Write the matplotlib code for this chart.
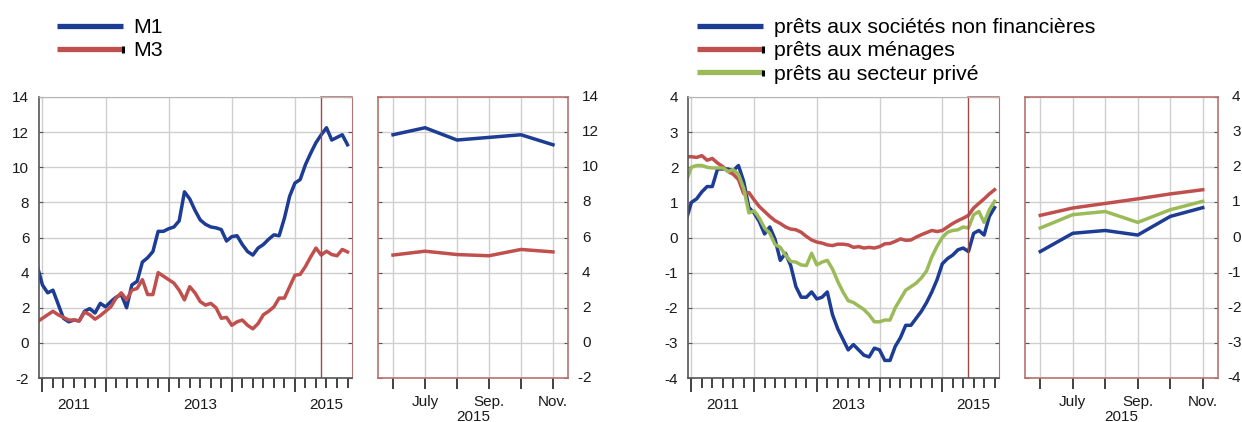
import numpy as np
import matplotlib
matplotlib.use("Agg")
import matplotlib.pyplot as plt
import matplotlib.transforms as mtransforms
from matplotlib.lines import Line2D
from matplotlib.legend_handler import HandlerLine2D

plt.rcParams['font.family'] = ['Liberation Sans', 'DejaVu Sans']
plt.rcParams['axes.unicode_minus'] = False

# monthly data, Dec 2010 .. Nov 2015 (month index: Jan 2011 = 0)
months = np.arange(-1, 59)

m1 = [4.4,
      3.3, 2.85, 3.0, 2.2, 1.4, 1.2, 1.3, 1.25, 1.8, 1.95, 1.7, 2.25,
      2.05, 2.35, 2.6, 2.75, 2.0, 3.3, 3.5, 4.6, 4.85, 5.2, 6.35, 6.35,
      6.5, 6.6, 6.95, 8.6, 8.2, 7.55, 7.0, 6.75, 6.6, 6.55, 6.45, 5.8,
      6.05, 6.1, 5.6, 5.2, 5.0, 5.4, 5.6, 5.9, 6.15, 6.1, 7.1, 8.35,
      9.1, 9.3, 10.15, 10.8, 11.4, 11.85, 12.25, 11.55, 11.7, 11.85, 11.28]

m3 = [1.2,
      1.4, 1.6, 1.8, 1.6, 1.45, 1.3, 1.3, 1.25, 1.75, 1.6, 1.35, 1.55,
      1.8, 2.05, 2.55, 2.85, 2.45, 3.0, 3.1, 3.6, 2.75, 2.75, 4.0, 3.8,
      3.6, 3.4, 3.0, 2.45, 3.2, 2.85, 2.35, 2.15, 2.25, 2.0, 1.4, 1.45,
      1.0, 1.2, 1.3, 1.0, 0.8, 1.1, 1.6, 1.8, 2.05, 2.55, 2.55, 3.2,
      3.85, 3.9, 4.35, 4.9, 5.4, 5.0, 5.22, 5.03, 4.96, 5.32, 5.18]

nfc = [0.5,
       1.0, 1.1, 1.3, 1.45, 1.45, 1.95, 1.95, 1.95, 1.9, 2.05, 1.6, 0.85,
       0.7, 0.45, 0.1, 0.3, -0.05, -0.65, -0.45, -0.8, -1.4, -1.7, -1.7, -1.55,
       -1.75, -1.7, -1.55, -2.2, -2.6, -2.9, -3.2, -3.05, -3.2, -3.35, -3.4, -3.15,
       -3.2, -3.5, -3.5, -3.1, -2.85, -2.5, -2.5, -2.3, -2.1, -1.85, -1.55, -1.2,
       -0.75, -0.6, -0.5, -0.35, -0.3, -0.4, 0.12, 0.2, 0.07, 0.6, 0.85]

households = [2.3,
              2.3, 2.28, 2.33, 2.2, 2.25, 2.12, 2.02, 1.88, 1.8, 1.65, 1.25, 1.28,
              1.07, 0.88, 0.74, 0.6, 0.48, 0.4, 0.3, 0.24, 0.22, 0.15, 0.03, -0.07,
              -0.13, -0.16, -0.21, -0.23, -0.19, -0.19, -0.21, -0.28, -0.26, -0.3, -0.28, -0.3,
              -0.26, -0.18, -0.17, -0.11, -0.04, -0.08, -0.07, 0.01, 0.08, 0.14, 0.2, 0.17,
              0.2, 0.3, 0.4, 0.48, 0.55, 0.63, 0.84, 0.97, 1.1, 1.24, 1.36]

private = [1.6,
           2.0, 2.05, 2.05, 2.0, 1.98, 1.98, 1.98, 1.88, 1.93, 1.8, 1.4, 0.7,
           0.76, 0.55, 0.27, 0.12, -0.2, -0.28, -0.5, -0.68, -0.7, -0.78, -0.8, -0.45,
           -0.78, -0.7, -0.65, -0.9, -1.25, -1.55, -1.8, -1.85, -1.95, -2.05, -2.2, -2.4,
           -2.4, -2.35, -2.35, -2.0, -1.75, -1.5, -1.4, -1.3, -1.15, -0.95, -0.55, -0.25,
           0.0, 0.15, 0.2, 0.22, 0.3, 0.27, 0.65, 0.74, 0.43, 0.79, 1.03]

year_starts = [0, 12, 24, 36, 48]
year_labels = {6: "2011", 30: "2013", 54: "2015"}
zoom_start = 53  # June 2015
zoom_labels = ["", "July", "", "Sep.", "", "Nov."]

left_series = [("M1", m1), ("M3", m3)]
right_series = [("prêts aux sociétés non financières", nfc),
                ("prêts aux ménages", households),
                ("prêts au secteur privé", private)]

BLUE = "#1d3c94"
RED = "#c0504d"
GREEN = "#9bbb59"
FRAME_RED = "#b87272"
GRID = "#cfcfcf"
DARK = "#1a1a1a"
colors = [BLUE, RED, GREEN]

W, H = 1242, 422
fig = plt.figure(figsize=(W / 100, H / 100), dpi=100)


def px_axes(x0, x1, y0, y1):
    return fig.add_axes([x0 / W, 1 - y1 / H, (x1 - x0) / W, (y1 - y0) / H])


def style_main(ax, series, ylim, yticks):
    for (lab, vals), c in zip(series, colors):
        ax.plot(months, vals, color=c, lw=2.5, solid_joinstyle='round')
    ax.set_xlim(-0.65, 58.85)
    ax.set_ylim(*ylim)
    ax.set_yticks(yticks)
    ax.set_yticklabels([str(v) for v in yticks], fontsize=11, color=DARK)
    ax.set_xticks(year_starts)
    ax.set_xticks(np.arange(0, 59, 2), minor=True)
    ax.set_xticklabels([])
    ax.grid(True, which='major', color=GRID, lw=1)
    ax.set_axisbelow(True)
    ax.tick_params(axis='x', which='major', direction='out', length=10, width=1.3, color='#333333')
    ax.tick_params(axis='x', which='minor', direction='out', length=7, width=1.3, color='#333333')
    ax.tick_params(axis='y', direction='in', length=3, left=True, right=True, color='#555555', pad=7)
    for s in ['left', 'bottom']:
        ax.spines[s].set_color('#555555')
        ax.spines[s].set_linewidth(1.2)
    ax.spines['top'].set_color('#b5b5b5')
    ax.spines['right'].set_color(FRAME_RED)
    ax.axvline(zoom_start, color='#a04848', lw=1)
    lo, hi = ax.get_xlim()
    ax.axhline(ylim[1], xmin=(zoom_start - lo) / (hi - lo), xmax=1, color=FRAME_RED, lw=1.2, clip_on=False)
    trans = mtransforms.blended_transform_factory(ax.transData, ax.transAxes)
    for xm, lab in year_labels.items():
        ax.text(xm, -0.097, lab, transform=trans, ha='center', va='center', fontsize=11, color=DARK)


def style_zoom(ax, series, ylim, yticks):
    xz = np.arange(6)
    for (lab, vals), c in zip(series, colors):
        ax.plot(xz, vals[-6:], color=c, lw=2.5, solid_joinstyle='round')
    ax.set_xlim(-0.47, 5.47)
    ax.set_ylim(*ylim)
    ax.set_yticks(yticks)
    ax.set_xticks(xz)
    ax.set_xticklabels(zoom_labels, fontsize=11, color=DARK)
    ax.grid(True, color=GRID, lw=1)
    ax.set_axisbelow(True)
    ax.tick_params(axis='x', direction='out', length=8, width=1.3, color='#333333', pad=4)
    ax.tick_params(axis='y', direction='in', length=3, left=True, right=True,
                   labelleft=False, labelright=False, color='#555555')
    for s in ax.spines.values():
        s.set_color(FRAME_RED)
        s.set_linewidth(1.2)
    # right-hand labels: digits aligned, minus sign hanging to the left
    off = mtransforms.ScaledTranslation(14 / 100, 0, fig.dpi_scale_trans)
    trans = mtransforms.blended_transform_factory(ax.transAxes, ax.transData) + off
    for v in yticks:
        ax.text(1, v, str(abs(v)), transform=trans, ha='left', va='center',
                fontsize=11, color=DARK, clip_on=False)
        if v < 0:
            ax.text(1, v, "-", transform=trans, ha='right', va='center',
                    fontsize=11, color=DARK, clip_on=False)
    ax.text(0.5, -0.14, "2015", transform=ax.transAxes, ha='center', va='center',
            fontsize=11, color=DARK)


class EndTickHandler(HandlerLine2D):
    # legend line with the little black end mark seen on the source chart
    def create_artists(self, legend, orig_handle, xdescent, ydescent, width, height, fontsize, trans):
        arts = super().create_artists(legend, orig_handle, xdescent, ydescent, width, height, fontsize, trans)
        y = height / 2 - ydescent
        x = width - xdescent
        tick = Line2D([x, x], [y - 3.0, y + 1.8], color='black', lw=2.2, solid_capstyle='butt', transform=trans)
        return list(arts) + [tick]


ax1 = px_axes(39, 352, 97, 378)
ax2 = px_axes(378, 568, 97, 378)
ax3 = px_axes(688, 999, 97, 378)
ax4 = px_axes(1025, 1218, 97, 378)

left_ticks = list(range(-2, 15, 2))
right_ticks = list(range(-4, 5))
style_main(ax1, left_series, (-2, 14), left_ticks)
style_zoom(ax2, left_series, (-2, 14), left_ticks)
style_main(ax3, right_series, (-4, 4), right_ticks)
style_zoom(ax4, right_series, (-4, 4), right_ticks)

h_left = [Line2D([], [], color=c, lw=3.8, solid_capstyle='butt') for c in colors[:2]]
h_right = [Line2D([], [], color=c, lw=3.8, solid_capstyle='butt') for c in colors[:3]]
hmap_left = {h: EndTickHandler() for h in h_left[1:]}
hmap_right = {h: EndTickHandler() for h in h_right[1:]}
leg_kw = dict(loc='upper left', frameon=False, fontsize=15.3, handlelength=3.1,
              handletextpad=0.5, labelspacing=0.2, borderpad=0, borderaxespad=0)
fig.legend(h_left, [s[0] for s in left_series], bbox_to_anchor=(57 / W, 1 - 18 / H),
           handler_map=hmap_left, **leg_kw)
fig.legend(h_right, [s[0] for s in right_series], bbox_to_anchor=(697 / W, 1 - 18 / H),
           handler_map=hmap_right, **leg_kw)

fig.savefig("out.png", dpi=100)
